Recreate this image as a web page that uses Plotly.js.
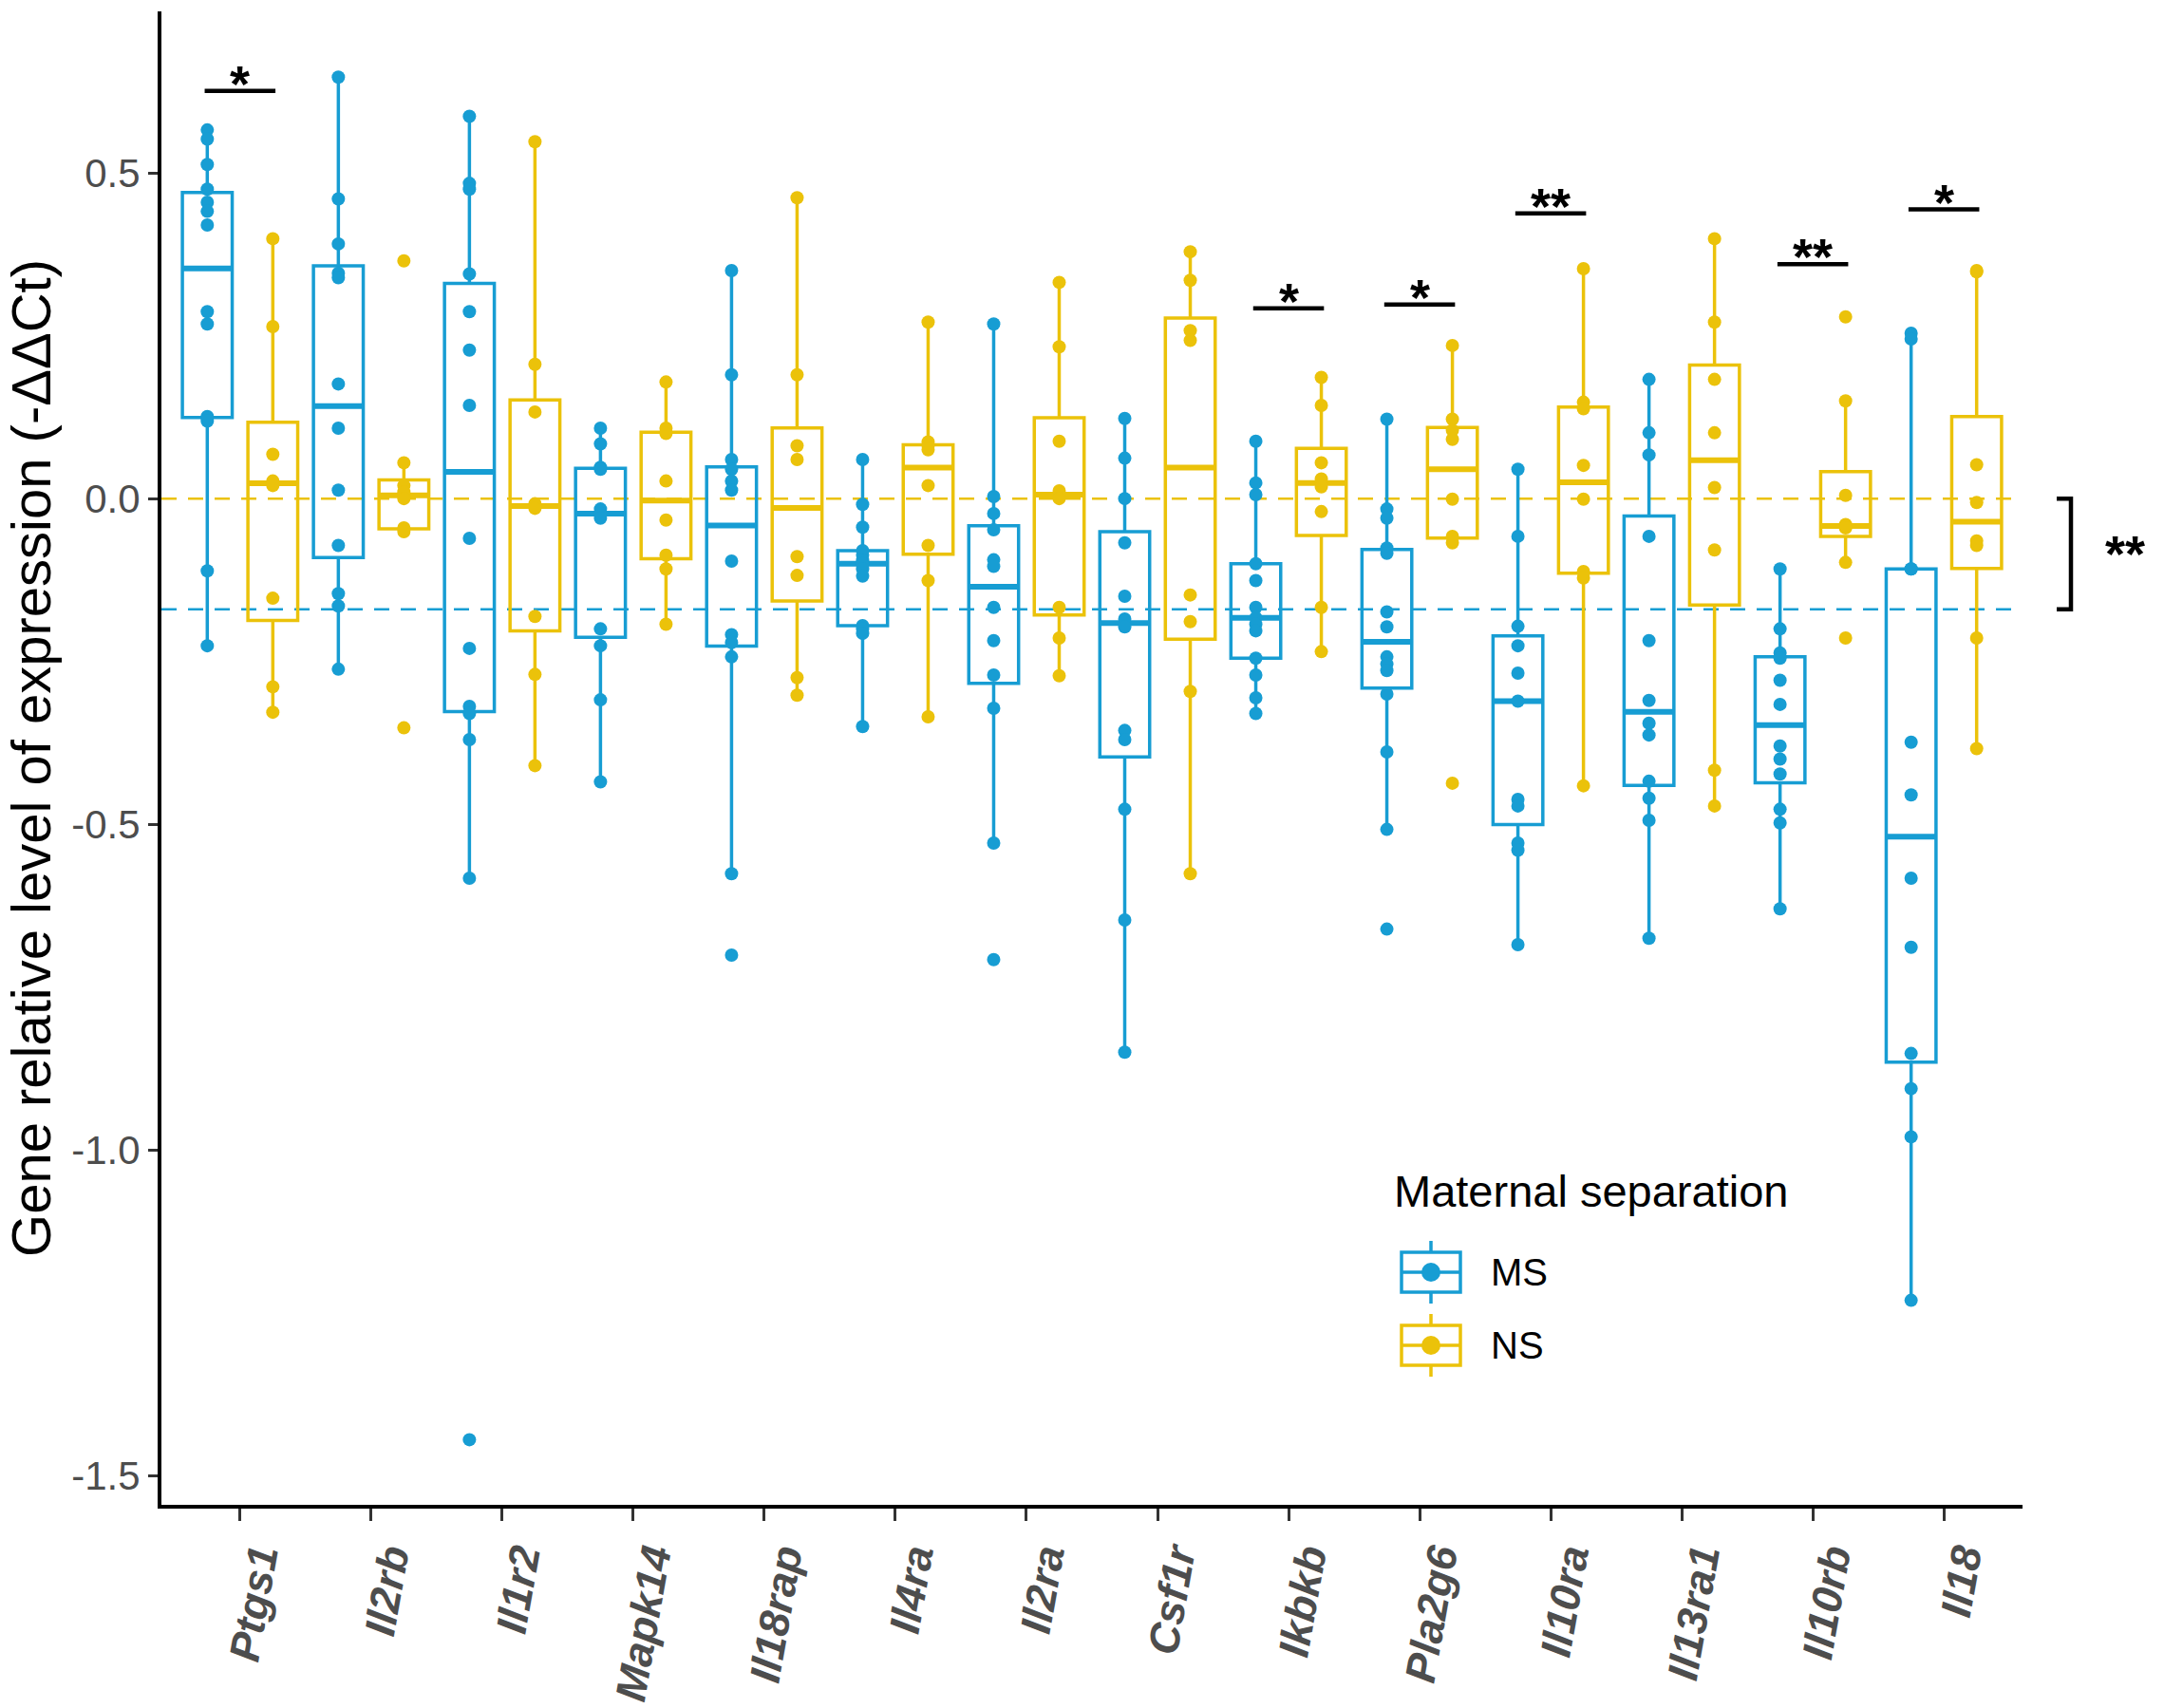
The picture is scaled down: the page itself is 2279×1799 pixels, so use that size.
<!DOCTYPE html>
<html>
<head>
<meta charset="utf-8">
<script src="https://cdn.plot.ly/plotly-3.0.1.min.js"></script>
<style>
html,body{margin:0;padding:0;background:#ffffff;}
#chart{width:2279px;height:1799px;}
</style>
</head>
<body>
<div id="chart"></div>
<script>
// ---------------- data ----------------
const genes = ['Ptgs1','Il2rb','Il1r2','Mapk14','Il18rap','Il4ra','Il2ra','Csf1r','Ikbkb','Pla2g6','Il10ra','Il13ra1','Il10rb','Il18'];

const msValues = [
  [0.566,0.552,0.513,0.475,0.455,0.441,0.42,0.287,0.268,0.126,0.124,0.119,-0.111,-0.226],
  [0.647,0.46,0.391,0.346,0.339,0.176,0.108,0.013,-0.072,-0.146,-0.165,-0.262],
  [0.587,0.484,0.475,0.345,0.287,0.228,0.143,-0.061,-0.23,-0.319,-0.33,-0.37,-0.583,-1.445],
  [0.108,0.084,0.048,0.045,-0.016,-0.023,-0.03,-0.2,-0.226,-0.309,-0.435],
  [0.35,0.19,0.06,0.045,0.027,0.013,-0.096,-0.209,-0.221,-0.243,-0.576,-0.701],
  [0.06,-0.009,-0.044,-0.08,-0.087,-0.095,-0.1,-0.108,-0.119,-0.195,-0.2,-0.207,-0.35],
  [0.268,0.003,-0.023,-0.048,-0.094,-0.104,-0.167,-0.218,-0.271,-0.322,-0.529,-0.708],
  [0.123,0.062,0.0,-0.068,-0.15,-0.185,-0.197,-0.356,-0.37,-0.477,-0.647,-0.85],
  [0.088,0.024,0.006,-0.1,-0.126,-0.167,-0.183,-0.193,-0.203,-0.245,-0.271,-0.306,-0.33],
  [0.122,-0.016,-0.03,-0.076,-0.084,-0.174,-0.197,-0.243,-0.254,-0.264,-0.3,-0.389,-0.508,-0.661],
  [0.045,-0.058,-0.196,-0.226,-0.268,-0.311,-0.462,-0.472,-0.529,-0.54,-0.685],
  [0.183,0.101,0.067,-0.058,-0.218,-0.31,-0.345,-0.363,-0.434,-0.46,-0.494,-0.675],
  [-0.108,-0.2,-0.237,-0.245,-0.279,-0.316,-0.38,-0.40,-0.423,-0.477,-0.498,-0.63],
  [0.254,0.245,-0.108,-0.108,-0.374,-0.455,-0.583,-0.689,-0.852,-0.906,-0.98,-1.231]
];

const nsValues = [
  [0.399,0.264,0.068,0.027,0.02,-0.153,-0.289,-0.328],
  [0.365,0.055,0.02,0.01,0.0,-0.045,-0.051,-0.352],
  [0.548,0.206,0.133,-0.008,-0.015,-0.181,-0.27,-0.41],
  [0.179,0.108,0.1,0.027,-0.033,-0.087,-0.108,-0.193],
  [0.462,0.19,0.081,0.06,-0.089,-0.118,-0.275,-0.302],
  [0.271,0.087,0.081,0.075,0.02,-0.072,-0.126,-0.335],
  [0.332,0.233,0.088,0.012,0.0,-0.167,-0.214,-0.272],
  [0.379,0.335,0.258,0.243,-0.148,-0.189,-0.296,-0.576],
  [0.186,0.143,0.055,0.03,0.018,-0.02,-0.167,-0.235],
  [0.235,0.122,0.105,0.091,-0.001,-0.058,-0.068,-0.437],
  [0.353,0.148,0.138,0.051,-0.001,-0.112,-0.122,-0.441],
  [0.399,0.271,0.183,0.101,0.017,-0.079,-0.417,-0.472],
  [0.279,0.15,0.005,-0.04,-0.044,-0.045,-0.098,-0.214],
  [0.35,0.348,0.052,-0.006,-0.065,-0.072,-0.214,-0.384]
];

const groupNames = ['MS','NS'];
const groupColors = ['#179DD3','#EBC20A'];
const groupMeanLines = [-0.17, 0.0];          // MS, NS dashed reference lines

const sigGenes   = ['Ptgs1','Ikbkb','Pla2g6','Il10ra','Il10rb','Il18'];
const sigHeights = [0.626, 0.292, 0.298, 0.438, 0.36, 0.444];
const sigLabels  = ['*','*','*','**','**','*'];
const overallSigLabel = '**';

const yTickVals = [-1.5,-1.0,-0.5,0.0,0.5];
const yTickText = ['-1.5','-1.0','-0.5','0.0','0.5'];
const yTitle = 'Gene relative level of expression (-ΔΔCt)';
const legendTitle = 'Maternal separation';

// ---------------- layout constants ----------------
const W = 2279, H = 1799;
const M = {l:170, r:149, t:12, b:214};
const PW = W - M.l - M.r, PH = H - M.t - M.b;
const yRange = [-1.545, 0.748];
const xRange = [-0.6, 13.6];
const OFFSET = 0.25, BOXW = 0.38;
const FONT = 'Liberation Sans, Arial, sans-serif';

const px2x = px => (px - M.l) / PW;
const px2y = py => (H - M.b - py) / PH;
const v2y  = v => (v - yRange[0]) / (yRange[1] - yRange[0]);

// R type-7 quantiles (as used by ggplot2's boxplot statistics)
function quant(sorted, p){
  const h = (sorted.length - 1) * p, lo = Math.floor(h);
  return lo + 1 < sorted.length ? sorted[lo] + (h - lo) * (sorted[lo+1] - sorted[lo]) : sorted[lo];
}
function boxStats(arr){
  const s = [...arr].sort((a,b)=>a-b);
  const q1 = quant(s, 0.25), med = quant(s, 0.5), q3 = quant(s, 0.75), iqr = q3 - q1;
  const lf = Math.min(...s.filter(v => v >= q1 - 1.5*iqr));
  const uf = Math.max(...s.filter(v => v <= q3 + 1.5*iqr));
  return {q1, med, q3, lf, uf};
}

const groups = [msValues, nsValues];
const boxTraces = [], pointTraces = [], shapes = [];

groups.forEach((vals, g) => {
  const pos = vals.map((arr, i) => i + (g ? OFFSET : -OFFSET));
  const st = vals.map(boxStats);
  boxTraces.push({
    type:'box', name:groupNames[g], x:pos,
    q1:st.map(s=>s.q1), median:st.map(s=>s.med), q3:st.map(s=>s.q3),
    lowerfence:st.map(s=>s.lf), upperfence:st.map(s=>s.uf),
    width:BOXW, boxpoints:false, whiskerwidth:0,
    fillcolor:'rgba(255,255,255,0)',
    line:{color:groupColors[g], width:3.5},
    showlegend:false, hoverinfo:'skip'
  });
  const px = [], py = [];
  vals.forEach((arr, i) => arr.forEach(v => { px.push(pos[i]); py.push(v); }));
  pointTraces.push({
    type:'scatter', mode:'markers', name:groupNames[g], x:px, y:py,
    marker:{color:groupColors[g], size:14, line:{width:0}},
    showlegend:false, hoverinfo:'y'
  });
  // thicker median lines (ggplot's fatten)
  st.forEach((s, i) => shapes.push({type:'line', xref:'x', yref:'y',
    x0:pos[i]-BOXW/2, x1:pos[i]+BOXW/2, y0:s.med, y1:s.med,
    layer:'between', line:{color:groupColors[g], width:6}}));
});

// dashed group reference lines
groupMeanLines.forEach((v, g) => shapes.push({
  type:'line', xref:'paper', yref:'y', x0:0, x1:1, y0:v, y1:v, layer:'below',
  line:{color:groupColors[g], width:2.5, dash:'16px,12px'}
}));

// significance bars
const annotations = [];
sigGenes.forEach((gname, k) => {
  const i = genes.indexOf(gname);
  shapes.push({type:'line', xref:'x', yref:'y', x0:i-0.27, x1:i+0.27, y0:sigHeights[k], y1:sigHeights[k],
    line:{color:'#000000', width:4.5}});
  annotations.push({xref:'x', yref:'y', x:i, y:sigHeights[k], text:sigLabels[k], showarrow:false,
    yanchor:'bottom', yshift:-24, font:{family:FONT, size:54, color:'#000000', weight:'bold'}});
});

// overall bracket between group means
const yb0 = v2y(groupMeanLines[1]), yb1 = v2y(groupMeanLines[0]);
const bx0 = px2x(2166), bx1 = px2x(2181);
shapes.push({type:'path', xref:'paper', yref:'paper',
  path:`M${bx0},${yb0} L${bx1},${yb0} L${bx1},${yb1} L${bx0},${yb1}`,
  line:{color:'#000000', width:4.5}});
annotations.push({xref:'paper', yref:'paper', x:px2x(2238), y:(yb0+yb1)/2, text:overallSigLabel,
  showarrow:false, xanchor:'center', yanchor:'middle', font:{family:FONT, size:54, color:'#000000', weight:'bold'}});

// custom legend (ggplot style keys)
annotations.push({xref:'paper', yref:'paper', x:px2x(1466), y:px2y(1254), text:legendTitle,
  showarrow:false, xanchor:'left', yanchor:'middle', font:{family:FONT, size:47, color:'#000000'}});
groupNames.forEach((name, g) => {
  const cy = 1340 + g*77, cx = 1507, col = groupColors[g];
  shapes.push({type:'rect', xref:'paper', yref:'paper', x0:px2x(1476), x1:px2x(1538), y0:px2y(cy-21), y1:px2y(cy+21),
    line:{color:col, width:3.5}, fillcolor:'rgba(255,255,255,0)'});
  shapes.push({type:'line', xref:'paper', yref:'paper', x0:px2x(1476), x1:px2x(1538), y0:px2y(cy), y1:px2y(cy),
    line:{color:col, width:3.5}});
  shapes.push({type:'line', xref:'paper', yref:'paper', x0:px2x(cx), x1:px2x(cx), y0:px2y(cy-33), y1:px2y(cy-21),
    line:{color:col, width:3.5}});
  shapes.push({type:'line', xref:'paper', yref:'paper', x0:px2x(cx), x1:px2x(cx), y0:px2y(cy+21), y1:px2y(cy+33),
    line:{color:col, width:3.5}});
  shapes.push({type:'circle', xref:'paper', yref:'paper', x0:px2x(cx-10), x1:px2x(cx+10), y0:px2y(cy-10), y1:px2y(cy+10),
    line:{color:col, width:0}, fillcolor:col});
  annotations.push({xref:'paper', yref:'paper', x:px2x(1568), y:px2y(cy), text:name, showarrow:false,
    xanchor:'left', yanchor:'middle', font:{family:FONT, size:40, color:'#000000'}});
});

const layout = {
  width:W, height:H, margin:M,
  paper_bgcolor:'#ffffff', plot_bgcolor:'#ffffff',
  boxmode:'overlay', showlegend:false,
  font:{family:FONT},
  xaxis:{
    range:xRange, tickmode:'array', tickvals:genes.map((g,i)=>i), ticktext:genes,
    tickangle:-80, ticklabelstandoff:-6, ticklabelshift:18,
    tickfont:{family:FONT, size:45, color:'#4D4D4D', weight:'bold', style:'italic'},
    showline:true, linecolor:'#000000', linewidth:4, mirror:false,
    ticks:'outside', ticklen:13, tickwidth:3, tickcolor:'#333333',
    showgrid:false, zeroline:false, fixedrange:true
  },
  yaxis:{
    range:yRange, tickmode:'array', tickvals:yTickVals, ticktext:yTickText,
    tickfont:{family:FONT, size:42, color:'#4D4D4D'},
    showline:true, linecolor:'#000000', linewidth:4,
    ticks:'outside', ticklen:10, tickwidth:3, tickcolor:'#333333',
    showgrid:false, zeroline:false, fixedrange:true,
    title:{text:yTitle, font:{family:FONT, size:58, color:'#000000'}, standoff:10}
  },
  shapes:shapes,
  annotations:annotations
};

Plotly.newPlot('chart', boxTraces.concat(pointTraces), layout, {staticPlot:true, displayModeBar:false});
</script>
</body>
</html>
